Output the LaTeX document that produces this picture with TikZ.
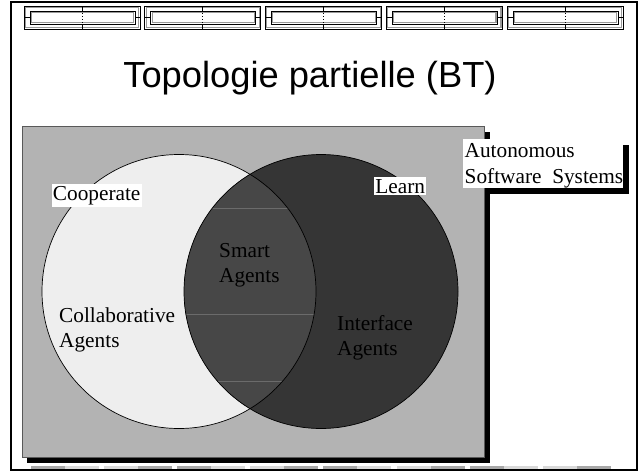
\documentclass[tikz,border=0pt]{standalone}
\usepackage{fontspec}
\setmainfont{Liberation Serif}
\newfontfamily\arialf{Liberation Sans}
\definecolor{bggray}{HTML}{B3B3B3}
\definecolor{lightc}{HTML}{EEEEEE}
\definecolor{darkc}{HTML}{353535}
\definecolor{lensc}{HTML}{474747}
\definecolor{barA}{HTML}{A8A8A8}
\definecolor{barB}{HTML}{D9D9D9}
\tikzset{
  lbl/.style={font=\fontsize{21.3}{24.5}\selectfont, align=left, inner sep=0pt, text=black},
  whitelbl/.style={font=\fontsize{21.3}{24.5}\selectfont, fill=white, inner xsep=1.2pt, inner ysep=2pt},
  tabouter/.style={draw=black, line width=0.8pt},
  tabinner/.style={draw=black, line width=0.8pt},
  tabgray/.style={draw=gray!80, line width=1.1pt},
}
\begin{document}
\begin{tikzpicture}[x=1pt,y=-1pt]
\useasboundingbox (0,0) rectangle (639,471);
% outer frame
\draw[line width=2.2pt] (10.7,2) rectangle (637,470);
% top tab bar
\foreach \i in {0,...,4}{
  \pgfmathsetmacro{\xa}{24+120.75*\i}
  \pgfmathsetmacro{\xb}{\xa+116}
  \pgfmathsetmacro{\xm}{(\xa+\xb)/2}
  \draw[tabgray] (\xa+1.3,7.3) rectangle (\xb-1.3,27.7);
  \draw[tabouter] (\xa,6) rectangle (\xb,29);
  \draw[tabgray] (\xa+7.3,12.3) rectangle (\xb-6.3,22.7);
  \draw[tabinner] (\xa+6,11) rectangle (\xb-5,24);
  \draw[line width=0.8pt] (\xa,17.5) -- (\xa+6,17.5);
  \draw[line width=0.8pt] (\xb-5,17.5) -- (\xb,17.5);
  \draw[line width=0.8pt] (\xm,6) -- (\xm,11);
  \draw[line width=0.8pt] (\xm,24) -- (\xm,29);
  \draw[line width=0.8pt, dash pattern=on 0.8pt off 2.5pt] (\xm,12.5) -- (\xm,23);
}
% bottom bars
\foreach \i in {0,...,7}{
  \pgfmathsetmacro{\xa}{30.5+73.2*\i}
  \pgfmathsetmacro{\xm}{\xa+34}
  \pgfmathsetmacro{\xb}{\xa+68}
  \ifodd\i
    \fill[barB] (\xa,466) rectangle (\xm,469.3);
    \fill[barA] (\xm,466) rectangle (\xb,469.3);
  \else
    \fill[barA] (\xa,466) rectangle (\xm,469.3);
    \fill[barB] (\xm,466) rectangle (\xb,469.3);
  \fi
}
% title
\node[font=\arialf\fontsize{36.3}{42}\selectfont, anchor=base, inner sep=0pt] (title) at (310,87) {Topologie partielle (BT)};
% autonomous box shadow (behind gray panel)
\fill[black] (468,145) rectangle (629,193.5);
% gray panel with shadow
\fill[black] (27,132) rectangle (490,463);
\filldraw[fill=bggray, draw=black!65, line width=0.8pt] (22,126) rectangle (484,457);
% circles
\fill[lightc] (179,291.5) circle (137pt);
\fill[darkc] (321,291.5) circle (137pt);
\begin{scope}
  \clip (179,291.5) circle (137pt);
  \fill[lensc] (321,291.5) circle (137pt);
  \clip (321,291.5) circle (137pt);
  \draw[black!58, line width=0.7pt] (170,208) -- (330,208);
  \draw[black!58, line width=0.7pt] (170,314) -- (330,314);
  \draw[black!58, line width=0.7pt] (170,381) -- (330,381);
\end{scope}
\draw[black, line width=0.7pt] (179,291.5) circle (137pt);
\draw[black, line width=0.7pt] (321,291.5) circle (137pt);
% autonomous box
\fill[white] (463,139) rectangle (623,188);
\node[lbl, anchor=base west, font=\fontsize{21.3}{26}\selectfont] (auto) at (464.5,183) {Autonomous\\Software\ \ Systems};
% labels
\node[whitelbl, anchor=base west] (coop) at (51.5,200) {Cooperate};
\node[whitelbl, anchor=base west] (learn) at (374,193) {Learn};
\node[lbl, anchor=base west] (smart) at (219,282) {Smart\\Agents};
\node[lbl, anchor=base west] (collab) at (59,347) {Collaborative\\Agents};
\node[lbl, anchor=base west] (iface) at (337,355) {Interface\\Agents};
\end{tikzpicture}
\end{document}
